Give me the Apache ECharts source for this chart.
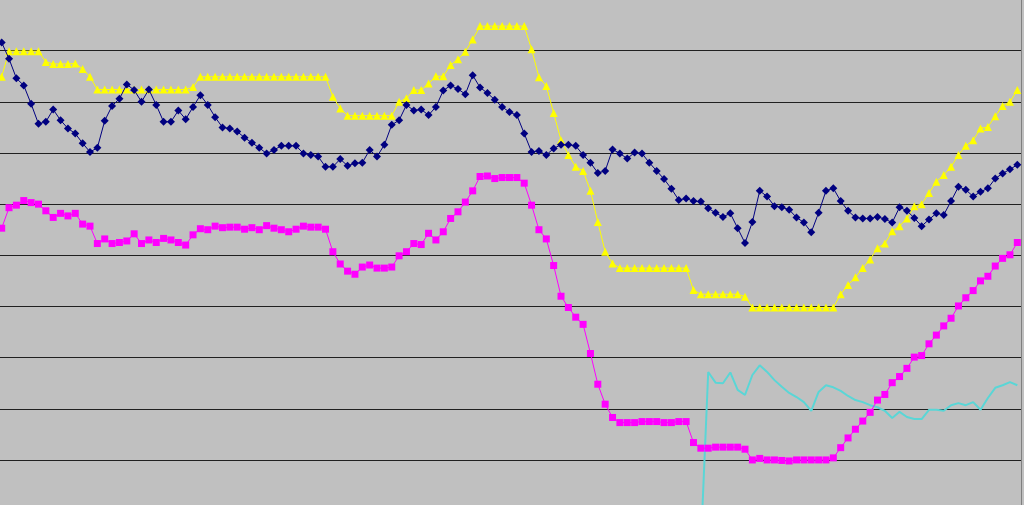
<!DOCTYPE html>
<html>
<head>
<meta charset="utf-8">
<script src="https://cdn.jsdelivr.net/npm/echarts@6/dist/echarts.min.js"></script>
<style>
html,body{margin:0;padding:0;background:#c0c0c0;}
#chart{width:1024px;height:505px;}
</style>
</head>
<body>
<div id="chart"></div>
<script>
// Category positions (139 points, unlabeled in the source picture)
var categories = [];
for (var k = 1; k <= 139; k++) { categories.push(String(k)); }

// Y tick values (gridlines, unlabeled in source)
var yTicks = { min: 0, max: 100, interval: 10 };

var navySeries = [
91.6,88.4,84.6,83.2,79.6,75.7,76.1,78.5,76.4,74.8,
73.8,71.9,70.2,71.0,76.3,79.2,80.6,83.4,82.3,80.0,
82.4,79.4,76.1,76.1,78.3,76.6,79.0,81.3,79.4,77.0,
75.0,74.8,74.2,73.0,72.0,71.0,69.9,70.6,71.4,71.4,
71.4,69.9,69.6,69.3,67.3,67.3,68.8,67.5,68.0,68.1,
70.6,69.3,71.6,75.5,76.4,79.4,78.3,78.5,77.4,79.0,
82.2,83.2,82.5,81.5,85.2,82.8,81.7,80.4,79.0,78.0,
77.4,73.8,70.2,70.4,69.6,70.9,71.6,71.6,71.4,69.6,
68.1,66.1,66.5,70.7,69.9,68.9,70.1,69.9,68.1,66.5,
64.9,63.0,60.8,61.1,60.6,60.5,59.2,58.3,57.5,58.2,
55.3,52.4,56.5,62.6,61.5,59.6,59.4,58.9,57.4,56.4,
54.5,58.3,62.6,63.1,60.6,58.7,57.4,57.2,57.2,57.5,
57.1,56.4,59.4,58.7,57.3,55.7,57.0,58.2,57.9,60.6,
63.4,62.8,61.5,62.4,63.1,65.0,66.0,66.8,67.7
];

var yellowSeries = [
84.9,89.9,89.9,89.9,89.9,89.9,87.8,87.4,87.4,87.4,
87.5,86.4,84.9,82.4,82.4,82.4,82.4,82.4,82.4,82.4,
82.4,82.4,82.4,82.4,82.4,82.4,82.9,84.9,84.9,84.9,
84.9,84.9,84.9,84.9,84.9,84.9,84.9,84.9,84.9,84.9,
84.9,84.9,84.9,84.9,84.9,81.0,78.7,77.3,77.3,77.3,
77.3,77.3,77.3,77.3,80.0,80.7,82.3,82.3,83.6,85.0,
85.0,87.2,88.3,89.8,92.2,94.8,94.8,94.8,94.8,94.8,
94.8,94.8,90.3,84.8,83.1,77.8,72.5,69.6,67.3,66.5,
62.6,56.5,50.7,48.4,47.5,47.5,47.5,47.5,47.5,47.5,
47.5,47.5,47.5,47.5,43.2,42.4,42.4,42.4,42.4,42.4,
42.4,41.9,39.8,39.8,39.8,39.8,39.8,39.8,39.8,39.8,
39.8,39.8,39.8,39.8,42.4,44.2,45.7,47.5,49.2,51.4,
52.3,54.7,55.7,57.2,59.6,60.0,62.2,64.4,65.7,67.3,
69.6,71.4,72.5,74.8,75.1,77.2,79.2,80.0,82.3
];

var magentaSeries = [
55.3,59.3,59.8,60.7,60.3,60.0,58.7,57.4,58.2,57.7,
58.2,56.1,55.7,52.3,53.2,52.3,52.5,52.8,54.2,52.3,
53.0,52.5,53.3,53.0,52.5,52.0,54.0,55.2,55.0,55.7,
55.4,55.5,55.5,55.1,55.4,55.0,55.8,55.3,55.0,54.6,
55.1,55.7,55.5,55.5,55.1,50.7,48.3,46.9,46.3,47.7,
48.1,47.5,47.5,47.7,49.9,50.7,52.3,52.1,54.3,53.0,
54.6,57.2,58.5,60.4,62.6,65.4,65.5,65.0,65.2,65.2,
65.2,64.1,59.8,55.0,53.2,48.0,42.0,39.8,37.9,36.5,
30.8,24.8,20.9,18.3,17.3,17.3,17.3,17.5,17.5,17.5,
17.3,17.3,17.5,17.5,13.4,12.3,12.3,12.5,12.5,12.5,
12.5,12.1,10.0,10.3,10.0,10.0,9.9,9.8,10.0,10.0,
10.0,10.0,10.0,10.4,12.4,14.3,16.0,17.6,19.3,21.7,
22.8,25.1,26.3,27.9,30.1,30.4,32.7,34.4,36.2,37.7,
40.1,41.7,43.1,45.0,45.9,47.9,49.4,50.1,52.5
];

// Cyan line begins at point 96 (index 95)
var cyanStart = 95;
var cyanValues = [
-6.8,27.2,25.1,25.0,27.1,23.7,22.7,26.6,28.5,27.2,
25.6,24.3,23.1,22.3,21.3,19.6,23.3,24.6,24.2,23.5,
22.5,21.7,21.3,20.7,20.3,19.6,18.2,19.4,18.4,18.0,
18.0,19.8,19.8,19.6,20.7,21.1,20.7,21.3,19.8,22.1,
24.1,24.6,25.2,24.6
];
var cyanSeries = [];
for (var j = 0; j < categories.length; j++) {
  cyanSeries.push(j < cyanStart ? null : cyanValues[j - cyanStart]);
}

var gridColors = [];
for (var g = 0; g < 10; g++) gridColors.push('#202020');
gridColors.push('#c0c0c0');

var chart = echarts.init(document.getElementById('chart'), null, {renderer: 'canvas'});
chart.setOption({
  animation: false,
  backgroundColor: '#c0c0c0',
  grid: { left: -2, right: 3, top: -0.5, height: 511.6, containLabel: false, outerBoundsMode: 'none' },
  xAxis: {
    type: 'category',
    data: categories,
    boundaryGap: true,
    axisLine: { show: false },
    axisTick: { show: false },
    axisLabel: { show: false },
    splitLine: { show: false }
  },
  yAxis: {
    type: 'value',
    position: 'right',
    min: yTicks.min,
    max: yTicks.max,
    interval: yTicks.interval,
    axisLine: { show: true, lineStyle: { color: '#808080', width: 1 } },
    axisTick: { show: false },
    axisLabel: { show: false },
    splitLine: { show: true, showMaxLine: false, lineStyle: { color: gridColors, width: 1 } }
  },
  series: [
    {
      name: 'cyan', type: 'line', data: cyanSeries, symbol: 'none', showSymbol: false,
      lineStyle: { color: '#5ad6d6', width: 2 }, itemStyle: { color: '#5ad6d6' },
      connectNulls: false, z: 2
    },
    {
      name: 'yellow', type: 'line', data: yellowSeries, symbol: 'triangle', symbolSize: 8,
      showSymbol: true, showAllSymbol: true,
      lineStyle: { color: '#ffff00', width: 1 }, itemStyle: { color: '#ffff00' }, z: 3
    },
    {
      name: 'navy', type: 'line', data: navySeries, symbol: 'diamond', symbolSize: 8,
      showSymbol: true, showAllSymbol: true,
      lineStyle: { color: '#000080', width: 1 }, itemStyle: { color: '#000080' }, z: 4
    },
    {
      name: 'magenta', type: 'line', data: magentaSeries, symbol: 'rect', symbolSize: 7,
      showSymbol: true, showAllSymbol: true,
      lineStyle: { color: '#ff00ff', width: 1 }, itemStyle: { color: '#ff00ff' }, z: 5
    }
  ]
});
</script>
</body>
</html>
